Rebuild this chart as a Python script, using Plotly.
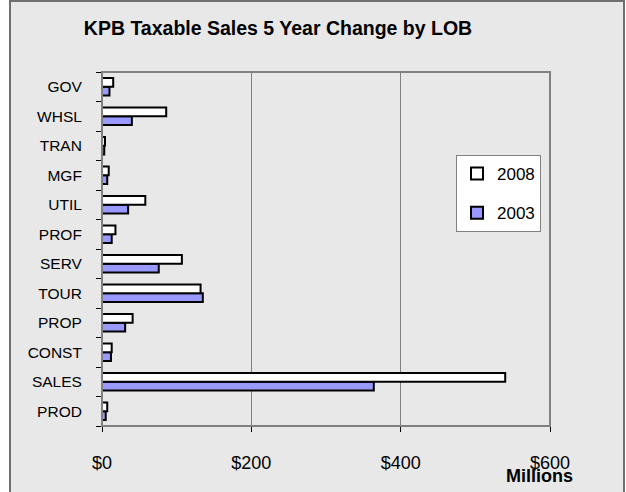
import plotly.graph_objects as go

categories = ["PROD", "SALES", "CONST", "PROP", "TOUR", "SERV", "PROF", "UTIL", "MGF", "TRAN", "WHSL", "GOV"]
sales_2003 = [5, 364, 12, 31, 135, 76, 13, 35, 7, 3, 40, 10]
sales_2008 = [7, 540, 13, 41, 132, 107, 18, 58, 9, 4, 86, 15]
x_ticks = [0, 200, 400, 600]
x_tick_labels = ["$0", "$200", "$400", "$600"]

W, H = 626, 492
L, R, T, B = 102, 550, 72, 426

fig = go.Figure()
fig.add_trace(go.Bar(y=categories, x=sales_2003, name="2003", orientation="h",
                     marker=dict(color="#9999ff", line=dict(color="black", width=2)),
                     legendgroup="a", legendrank=2))
fig.add_trace(go.Bar(y=categories, x=sales_2008, name="2008", orientation="h",
                     marker=dict(color="white", line=dict(color="black", width=2)),
                     legendgroup="b", legendrank=1))

pw, ph = R - L, B - T
def px(xp):
    return (xp - L) / pw
def py(yp):
    return (B - yp) / ph

shapes = [
    dict(type="rect", xref="paper", yref="paper", x0=px(10), x1=px(624), y0=py(520), y1=py(1),
         fillcolor="#e8e8e8", line=dict(color="#707070", width=2), layer="below"),
    dict(type="rect", xref="paper", yref="paper", x0=0, x1=1, y0=0, y1=1,
         line=dict(color="#808080", width=2), layer="above"),
]

fig.update_layout(
    width=W, height=H,
    margin=dict(l=L, r=W - R, t=T, b=H - B, autoexpand=False),
    paper_bgcolor="white", plot_bgcolor="white",
    barmode="group", bargap=0.40, bargroupgap=0.0,
    font=dict(family="Arial, Liberation Sans, sans-serif", size=15.5, color="black"),
    title=dict(text="<b>KPB Taxable Sales 5 Year Change by LOB</b>", x=278 / W, xanchor="center",
               y=1 - 28 / H, yanchor="middle", font=dict(size=19.5)),
    xaxis=dict(range=[0, 600], tickvals=x_ticks, ticktext=x_tick_labels,
               showgrid=True, gridcolor="#808080", gridwidth=1,
               showline=True, linecolor="black", linewidth=1,
               ticks="outside", ticklen=5, tickcolor="black",
               ticklabelstandoff=15, zeroline=False, fixedrange=True,
               tickfont=dict(size=18)),
    yaxis=dict(categoryorder="array", categoryarray=categories,
               showline=True, linecolor="black", linewidth=1,
               ticks="outside", ticklen=5, tickcolor="black", tickson="boundaries",
               ticklabelstandoff=16, showgrid=False, fixedrange=True,
               tickfont=dict(size=15.5)),
    legend=dict(x=px(456), y=py(155), xanchor="left", yanchor="top",
                bgcolor="white", bordercolor="#808080", borderwidth=1,
                traceorder="grouped", tracegroupgap=14, entrywidth=60,
                font=dict(size=17)),
    shapes=shapes,
    annotations=[dict(text="<b>Millions</b>", xref="paper", yref="paper", x=px(539), y=py(476),
                      xanchor="center", yanchor="middle", showarrow=False, font=dict(size=18))],
)

fig.write_html("out.html", config={"displayModeBar": False},
               post_script="document.body.style.margin='0px';")
